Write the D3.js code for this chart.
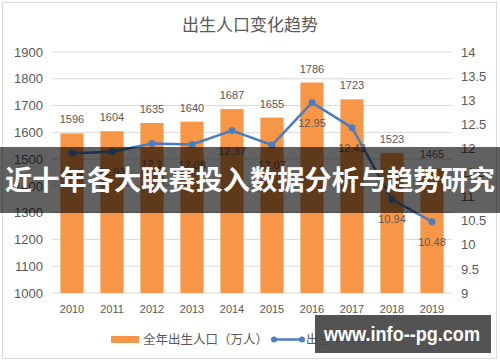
<!DOCTYPE html>
<html><head><meta charset="utf-8">
<script src="https://cdn.jsdelivr.net/npm/d3@7"></script>
<style>body{margin:0;background:#fff}svg{display:block}</style>
</head><body>
<script>
const years = ["2010","2011","2012","2013","2014","2015","2016","2017","2018","2019"];
const births = [1596,1604,1635,1640,1687,1655,1786,1723,1523,1465];
const rates = [11.9,11.93,12.1,12.08,12.37,12.07,12.95,12.43,10.94,10.48];
const leftTicks = [1000,1100,1200,1300,1400,1500,1600,1700,1800,1900];
const rightTicks = [9,9.5,10,10.5,11,11.5,12,12.5,13,13.5,14];

const W=500,H=362;
const svg=d3.select("body").append("svg").attr("width",W).attr("height",H);
const numFont="'Liberation Sans', Arial, sans-serif";
const cjk="'Noto Sans CJK SC', sans-serif";
const txt="#595959";

svg.append("rect").attr("x",2.5).attr("y",2.5).attr("width",494).attr("height",356)
  .attr("fill","#fff").attr("stroke","#d9d9d9");

const x=d3.scaleBand().domain(years).range([52,452]).paddingInner(0.42).paddingOuter(0.21);
const yL=d3.scaleLinear().domain([1000,1900]).range([293,52]);
const yR=d3.scaleLinear().domain([9,14]).range([293,52]);

// gridlines
svg.append("g").selectAll("line").data(leftTicks).join("line")
  .attr("x1",52).attr("x2",452).attr("y1",d=>yL(d)).attr("y2",d=>yL(d))
  .attr("stroke","#d9d9d9").attr("stroke-width",1);

// axes
const gl=svg.append("g").attr("transform","translate(52,0)")
  .call(d3.axisLeft(yL).tickValues(leftTicks).tickFormat(d=>String(d)).tickSize(0).tickPadding(9));
gl.select(".domain").remove();
gl.selectAll("text").attr("font-family",numFont).attr("font-size",13).attr("fill",txt);

const gr=svg.append("g").attr("transform","translate(452,0)")
  .call(d3.axisRight(yR).tickValues(rightTicks).tickFormat(d=>String(d)).tickSize(0).tickPadding(9));
gr.select(".domain").remove();
gr.selectAll("text").attr("font-family",numFont).attr("font-size",13).attr("fill",txt);

const gb=svg.append("g").attr("transform","translate(0,293)")
  .call(d3.axisBottom(x).tickSize(0).tickPadding(12));
gb.select(".domain").remove();
gb.selectAll("text").attr("font-family",numFont).attr("font-size",11).attr("fill",txt);

// bars
const barColor="#F79646";
svg.append("g").selectAll("rect").data(births).join("rect")
  .attr("x",(d,i)=>x(years[i])).attr("width",x.bandwidth())
  .attr("y",d=>yL(d)).attr("height",d=>yL(1000)-yL(d)).attr("fill",barColor);
svg.append("g").selectAll("text").data(births).join("text")
  .attr("x",(d,i)=>x(years[i])+x.bandwidth()/2).attr("y",d=>yL(d)-10)
  .attr("text-anchor","middle").attr("font-family",numFont).attr("font-size",11).attr("fill",txt)
  .text(d=>d);

// line
const lineColor="#4a7ebf";
const cx=(i)=>x(years[i])+x.bandwidth()/2;
svg.append("path").datum(rates)
  .attr("d",d3.line().x((d,i)=>cx(i)).y(d=>yR(d)))
  .attr("fill","none").attr("stroke",lineColor).attr("stroke-width",2.5).attr("stroke-linejoin","round");
svg.append("g").selectAll("circle").data(rates).join("circle")
  .attr("cx",(d,i)=>cx(i)).attr("cy",d=>yR(d)).attr("r",3.5).attr("fill",lineColor);
svg.append("g").selectAll("text").data(rates).join("text")
  .attr("x",(d,i)=>cx(i)).attr("y",d=>yR(d)+24)
  .attr("text-anchor","middle").attr("font-family",numFont).attr("font-size",11).attr("fill",txt)
  .text(d=>d);

// title
svg.append("text").attr("x",250).attr("y",31).attr("text-anchor","middle")
  .attr("font-family",cjk).attr("font-size",17).attr("fill",txt).text("出生人口变化趋势");

// legend
svg.append("rect").attr("x",111).attr("y",336).attr("width",28).attr("height",7).attr("fill",barColor);
svg.append("text").attr("x",143).attr("y",344).attr("font-family",cjk).attr("font-size",12.5).attr("fill",txt)
  .text("全年出生人口（万人）");
svg.append("line").attr("x1",274).attr("x2",302).attr("y1",339.5).attr("y2",339.5)
  .attr("stroke",lineColor).attr("stroke-width",2.5);
svg.append("circle").attr("cx",274).attr("cy",339.5).attr("r",3).attr("fill",lineColor);
svg.append("circle").attr("cx",302).attr("cy",339.5).attr("r",3).attr("fill",lineColor);
svg.append("text").attr("x",306).attr("y",344).attr("font-family",cjk).attr("font-size",12.5).attr("fill",txt)
  .text("出生率（‰）");

// overlay band
svg.append("rect").attr("x",0).attr("y",147).attr("width",500).attr("height",66)
  .attr("fill","#000").attr("opacity",0.62);
svg.append("text").attr("x",250).attr("y",190).attr("text-anchor","middle")
  .attr("font-family",cjk).attr("font-weight","bold").attr("font-size",27).attr("fill","#fff")
  .attr("textLength",490).attr("lengthAdjust","spacingAndGlyphs")
  .text("近十年各大联赛投入数据分析与趋势研究");

// watermark
svg.append("rect").attr("x",315).attr("y",315).attr("width",176).attr("height",38)
  .attr("fill","#4a4a4a").attr("opacity",0.95);
svg.append("text").attr("x",402).attr("y",341).attr("text-anchor","middle")
  .attr("font-family",numFont).attr("font-weight","bold").attr("font-size",20).attr("fill","#fff")
  .attr("textLength",156).attr("lengthAdjust","spacingAndGlyphs")
  .text("www.info--pg.com");
</script>
</body></html>
